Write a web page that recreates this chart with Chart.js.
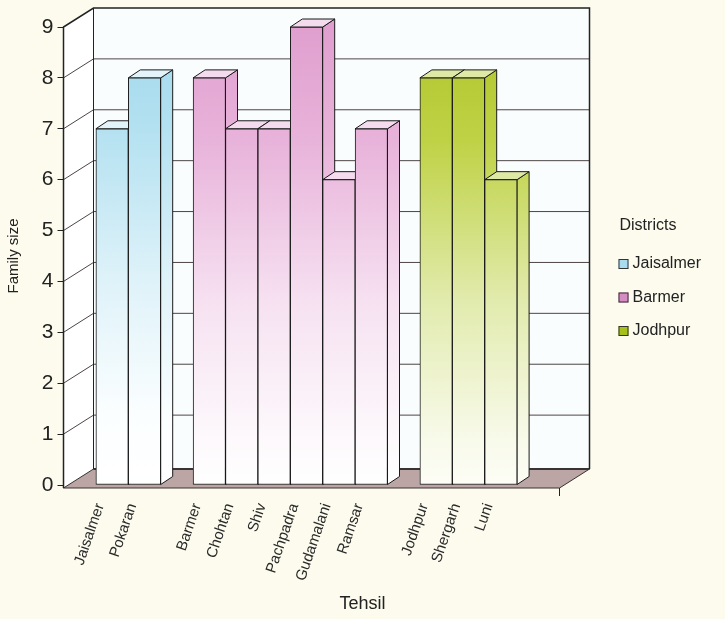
<!DOCTYPE html>
<html>
<head>
<meta charset="utf-8">
<script src="https://cdn.jsdelivr.net/npm/chart.js@4.4.1/dist/chart.umd.min.js"></script>
<style>
  body { margin: 0; background: #fcfbee; }
  canvas { display: block; }
</style>
</head>
<body>
<canvas id="family" width="725" height="619"></canvas>
<script>
const districts = ['Jaisalmer', 'Barmer', 'Jodhpur'];
const jaisalmerTehsils = ['Jaisalmer', 'Pokaran'];
const jaisalmerSize = [7, 8];
const barmerTehsils = ['Barmer', 'Chohtan', 'Shiv', 'Pachpadra', 'Gudamalani', 'Ramsar'];
const barmerSize = [8, 7, 7, 9, 6, 7];
const jodhpurTehsils = ['Jodhpur', 'Shergarh', 'Luni'];
const jodhpurSize = [8, 8, 6];
const yMax = 9;

// one empty slot before, between and after the district groups
const groups = [[jaisalmerTehsils, jaisalmerSize], [barmerTehsils, barmerSize], [jodhpurTehsils, jodhpurSize]];
const labels = [''];
const series = groups.map(() => [null]);
groups.forEach(([names, vals], g) => {
    names.forEach((n, i) => {
        labels.push(n);
        series.forEach((s, k) => s.push(k === g ? vals[i] : null));
    });
    labels.push('');
    series.forEach(s => s.push(null));
});

const FONT = '"Liberation Sans", Arial, sans-serif';
const front = [
    [[0, '#a2d9ee'], [0.2, '#b1e0f0'], [0.55, '#def2f9'], [0.85, '#fbfeff'], [1, '#ffffff']],
    [[0, '#e09fcf'], [0.25, '#e8b3da'], [0.6, '#f6e1f1'], [0.9, '#fdf9fc'], [1, '#ffffff']],
    [[0, '#afc52a'], [0.25, '#bfd246'], [0.6, '#e2ebae'], [0.9, '#f8faea'], [1, '#fdfdf6']]
];
const tops = ['#e2f4fa', '#f4dbee', '#dfe9a6'];
const swatch = ['#aadcee', '#d58cc0', '#a8c01c'];

const DX = 30, DY = -19;   // depth of the box walls
const BX = 12, BY = -8;    // depth of each bar
const EXT = 10;            // floor runs a little past the last slot

function fade(chart, stops) {
    const a = chart.chartArea;
    const g = chart.ctx.createLinearGradient(0, a.top, 0, a.bottom);
    stops.forEach(([o, c]) => g.addColorStop(o, c));
    return g;
}

const box3d = {
    id: 'box3d',
    beforeDraw(chart) {
        const {ctx, chartArea: a, scales: {y}} = chart;
        const l = a.left, r = a.right + EXT, t = a.top, b = a.bottom + 3;
        ctx.save();
        ctx.fillStyle = '#fcfbee';
        ctx.fillRect(0, 0, chart.width, chart.height);

        // back wall and left wall
        ctx.fillStyle = '#fafdfe';
        ctx.fillRect(l + DX, t + DY, r - l, b - t);
        ctx.beginPath();
        ctx.moveTo(l, t); ctx.lineTo(l + DX, t + DY); ctx.lineTo(l + DX, b + DY); ctx.lineTo(l, b);
        ctx.closePath();
        ctx.fillStyle = '#ffffff';
        ctx.fill();

        ctx.strokeStyle = '#4d4545';
        ctx.lineWidth = 1;
        y.ticks.forEach(tk => {
            if (tk.value === 0 || tk.value === yMax) return;
            const py = y.getPixelForValue(tk.value);
            ctx.beginPath();
            ctx.moveTo(l, py); ctx.lineTo(l + DX, py + DY); ctx.lineTo(r + DX, py + DY);
            ctx.stroke();
        });

        // floor
        ctx.beginPath();
        ctx.moveTo(l, b); ctx.lineTo(r, b); ctx.lineTo(r + DX, b + DY); ctx.lineTo(l + DX, b + DY);
        ctx.closePath();
        ctx.fillStyle = '#bba5a5';
        ctx.fill();
        ctx.strokeStyle = '#3a3333';
        ctx.stroke();
        ctx.lineWidth = 2;
        ctx.beginPath();
        ctx.moveTo(l + DX, b + DY); ctx.lineTo(r + DX, b + DY);
        ctx.stroke();

        // outline of the box
        ctx.strokeStyle = '#222';
        ctx.lineWidth = 1.5;
        ctx.beginPath();
        ctx.moveTo(l, b); ctx.lineTo(l, t); ctx.lineTo(l + DX, t + DY);
        ctx.lineTo(r + DX, t + DY); ctx.lineTo(r + DX, b + DY);
        ctx.stroke();
        ctx.lineWidth = 1;
        ctx.beginPath();
        ctx.moveTo(l + DX, t + DY); ctx.lineTo(l + DX, b + DY);
        ctx.moveTo(r, b); ctx.lineTo(r, b + 8);
        ctx.stroke();
        ctx.restore();
    },
    beforeDatasetsDraw(chart) {
        const {ctx} = chart;
        const bars = [];
        chart.data.datasets.forEach((ds, i) => {
            chart.getDatasetMeta(i).data.forEach((el, j) => {
                if (ds.data[j] != null) bars.push({el, i});
            });
        });
        bars.sort((p, q) => p.el.x - q.el.x);
        ctx.save();
        ctx.strokeStyle = '#1a1a1a';
        ctx.lineWidth = 1;
        bars.forEach(({el, i}) => {
            const {x, y, base, width} = el.getProps(['x', 'y', 'base', 'width'], true);
            const r = x + width / 2, l = x - width / 2;
            ctx.beginPath();
            ctx.moveTo(r, y); ctx.lineTo(r + BX, y + BY); ctx.lineTo(r + BX, base + BY); ctx.lineTo(r, base);
            ctx.closePath();
            ctx.fillStyle = fade(chart, front[i]);
            ctx.fill();
            ctx.stroke();
            ctx.beginPath();
            ctx.moveTo(l, y); ctx.lineTo(l + BX, y + BY); ctx.lineTo(r + BX, y + BY); ctx.lineTo(r, y);
            ctx.closePath();
            ctx.fillStyle = tops[i];
            ctx.fill();
            ctx.stroke();
        });
        ctx.restore();
    },
    afterDraw(chart) {
        const {ctx, chartArea: a} = chart;
        const x = a.right + 69;
        ctx.save();
        ctx.font = '16px ' + FONT;
        ctx.fillStyle = '#222';
        ctx.textBaseline = 'middle';
        ctx.fillText('Districts', x + 1, 226);
        districts.forEach((d, i) => {
            const cy = 264 + i * 33.5;
            ctx.fillStyle = swatch[i];
            ctx.fillRect(x, cy - 5, 10, 10);
            ctx.strokeStyle = '#333';
            ctx.strokeRect(x + 0.5, cy - 4.5, 9, 9);
            ctx.fillStyle = '#222';
            ctx.fillText(d, x + 14, cy);
        });
        ctx.restore();
    }
};

new Chart(document.getElementById('family'), {
    type: 'bar',
    data: {
        labels: labels,
        datasets: districts.map((d, i) => ({
            label: d,
            data: series[i],
            grouped: false,
            barPercentage: 1,
            categoryPercentage: 1,
            borderWidth: 1,
            borderColor: '#1a1a1a',
            borderSkipped: false,
            backgroundColor: c => c.chart.chartArea ? fade(c.chart, front[i]) : swatch[i]
        }))
    },
    options: {
        responsive: false,
        animation: false,
        devicePixelRatio: 1,
        layout: {padding: {top: 27, left: 0, right: 0, bottom: 0}},
        scales: {
            x: {
                grid: {display: false, drawTicks: false},
                border: {display: false},
                ticks: {
                    autoSkip: false,
                    minRotation: 71,
                    maxRotation: 71,
                    padding: 16,
                    labelOffset: -12,
                    color: '#2a2a2a',
                    font: {family: FONT, size: 15}
                },
                afterFit: s => { s.height = 108.4; }
            },
            y: {
                min: 0,
                max: yMax,
                ticks: {
                    stepSize: 1,
                    padding: 4,
                    color: '#222',
                    font: {family: FONT, size: 21}
                },
                grid: {drawOnChartArea: false, drawTicks: true, tickLength: 6, color: '#222'},
                border: {display: true, color: '#222'},
                title: {
                    display: true,
                    text: 'Family size',
                    color: '#222',
                    padding: 5,
                    font: {family: FONT, size: 15}
                },
                afterFit: s => { s.width = 63.5; }
            },
            spacer: {
                type: 'linear',
                position: 'right',
                grid: {display: false},
                border: {display: false},
                ticks: {display: false},
                afterFit: s => { s.width = 175.5; }
            }
        },
        plugins: {
            legend: {display: false},
            tooltip: {enabled: false},
            title: {
                display: true,
                position: 'bottom',
                text: 'Tehsil',
                color: '#222',
                font: {family: FONT, size: 18, weight: 'normal'},
                padding: {top: 0, bottom: 4}
            }
        }
    },
    plugins: [box3d]
});
</script>
</body>
</html>
